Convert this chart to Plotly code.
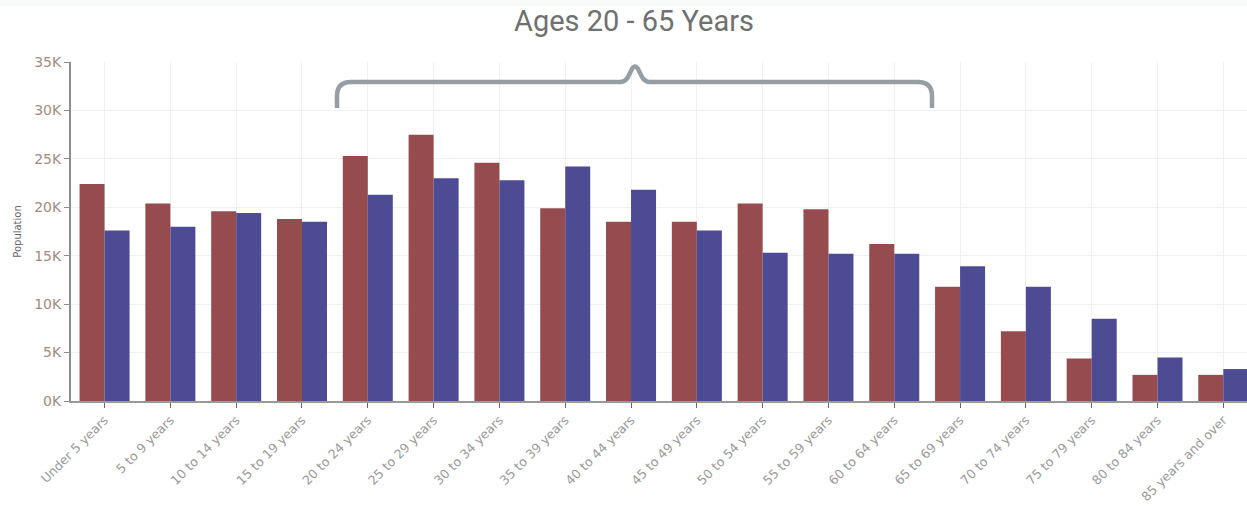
import plotly.graph_objects as go

categories = ["Under 5 years", "5 to 9 years", "10 to 14 years", "15 to 19 years",
              "20 to 24 years", "25 to 29 years", "30 to 34 years", "35 to 39 years",
              "40 to 44 years", "45 to 49 years", "50 to 54 years", "55 to 59 years",
              "60 to 64 years", "65 to 69 years", "70 to 74 years", "75 to 79 years",
              "80 to 84 years", "85 years and over"]
series_red = [22400, 20400, 19600, 18800, 25300, 27500, 24600, 19900, 18500,
              18500, 20400, 19800, 16200, 11800, 7200, 4400, 2700, 2700]
series_blue = [17600, 18000, 19400, 18500, 21300, 23000, 22800, 24200, 21800,
               17600, 15300, 15200, 15200, 13900, 11800, 8500, 4500, 3300]
y_tickvals = [0, 5000, 10000, 15000, 20000, 25000, 30000, 35000]
y_ticktext = ["0K", "5K", "10K", "15K", "20K", "25K", "30K", "35K"]
title_text = "Ages 20 - 65 Years"

W, H = 1247, 506
ML, MR, MT, MB = 71, 0, 62, 105
PW, PH = W - ML - MR, H - MT - MB


def px(x):
    return (x - ML) / PW


def py(y):
    return (H - MB - y) / PH


fig = go.Figure()
fig.add_trace(go.Bar(x=categories, y=series_red, name="Series 1",
                     marker=dict(color="#964C4F", line=dict(width=0))))
fig.add_trace(go.Bar(x=categories, y=series_blue, name="Series 2",
                     marker=dict(color="#4D4B94", line=dict(width=0))))

# brace path (pixel points converted to paper coords)
pts = [("M", [(337, 108)]), ("L", [(337, 96)]), ("Q", [(337, 82), (351, 82)]),
       ("L", [(620, 82)]), ("Q", [(625, 82), (628, 77)]), ("L", [(632, 69)]),
       ("Q", [(635, 64), (638, 69)]), ("L", [(642, 77)]), ("Q", [(645, 82), (650, 82)]),
       ("L", [(918, 82)]), ("Q", [(932, 82), (932, 96)]), ("L", [(932, 108)])]
path = " ".join(cmd + " " + " ".join(f"{px(a):.5f},{py(b):.5f}" for a, b in p) for cmd, p in pts)

fig.update_layout(
    width=W, height=H,
    margin=dict(l=ML, r=MR, t=MT, b=MB, autoexpand=False),
    paper_bgcolor="white", plot_bgcolor="white",
    barmode="group", bargap=0.24, bargroupgap=0,
    showlegend=False,
    font=dict(family="DejaVu Sans"),
    xaxis=dict(range=[-0.51, 17.36], tickangle=-45,
               tickfont=dict(size=12.6, color="#9a9a9a", family="DejaVu Sans"),
               showgrid=True, gridcolor="#f0f0f0", gridwidth=1,
               showline=True, linecolor="#999999", linewidth=1.5,
               ticks="outside", ticklen=5, tickcolor="#666666", tickwidth=1,
               automargin=False),
    yaxis=dict(range=[0, 35000], tickvals=y_tickvals, ticktext=y_ticktext,
               tickfont=dict(size=14, color="#a38b82", family="DejaVu Sans"),
               showgrid=True, gridcolor="#f0f0f0", gridwidth=1,
               showline=True, linecolor="#8c8c8c", linewidth=2,
               ticks="outside", ticklen=5, tickcolor="#8c8c8c", tickwidth=1,
               zeroline=False, automargin=False,
               title=dict(text="Population", font=dict(size=10, color="#666666"), standoff=11)),
    shapes=[
        dict(type="rect", xref="paper", yref="paper", x0=px(0), x1=px(W), y0=py(6), y1=py(0),
             fillcolor="#f8fafa", line=dict(width=0), layer="below"),
        dict(type="path", xref="paper", yref="paper", path=path,
             line=dict(color="rgb(150,157,163)", width=4.5)),
    ],
    annotations=[
        dict(text=title_text, xref="paper", yref="paper", x=px(634), y=py(21),
             xanchor="center", yanchor="middle", showarrow=False,
             font=dict(family="Roboto", size=29, color="#707070")),
    ],
)

fig.write_html("out.html", config={"displayModeBar": False},
               post_script="document.body.style.margin='0';document.body.style.padding='0';")
